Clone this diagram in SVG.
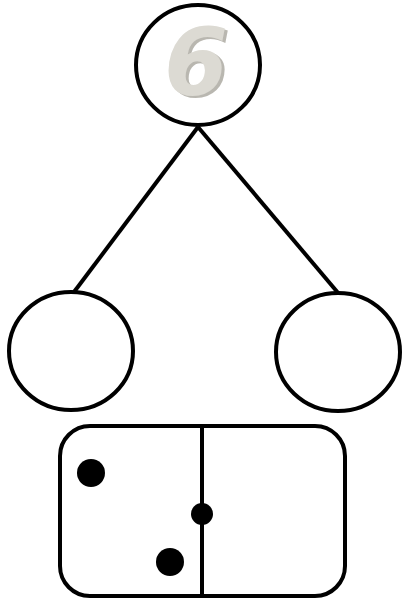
<svg xmlns="http://www.w3.org/2000/svg" width="403" height="600" viewBox="0 0 403 600">
<defs>
<filter id="sh" x="-20%" y="-20%" width="140%" height="140%">
<feOffset in="SourceAlpha" dx="3" dy="2" result="o"/>
<feFlood flood-color="#b9b7b0"/>
<feComposite in2="o" operator="in" result="s"/>
<feMerge><feMergeNode in="s"/><feMergeNode in="SourceGraphic"/></feMerge>
</filter>
</defs>
<style>
.n{fill:#fff;stroke:#000;stroke-width:4}
.c{stroke:#000;stroke-width:4;fill:none}
.dot{fill:#000}
.six{font-family:"DejaVu Sans","Liberation Sans",sans-serif;font-weight:bold;font-style:oblique;font-size:92px;text-anchor:middle;fill:#dcdad3}
</style>
<rect width="403" height="600" fill="#fff"/>
<g id="connectors">
<line class="c" x1="198" y1="127" x2="74" y2="292"/>
<line class="c" x1="198" y1="127" x2="339" y2="294"/>
</g>
<g id="top">
<ellipse class="n" cx="198" cy="65" rx="62" ry="60"/>
<text class="six" x="196" y="95" filter="url(#sh)">6</text>
</g>
<g id="left">
<ellipse class="n" cx="71" cy="351" rx="62" ry="59"/>
</g>
<g id="right">
<ellipse class="n" cx="338" cy="352" rx="62" ry="59"/>
</g>
<g id="domino">
<rect class="n" x="60" y="426" width="285" height="170" rx="30" ry="30"/>
<line class="c" x1="202" y1="426" x2="202" y2="596"/>
<circle class="dot" cx="91" cy="473" r="14"/>
<circle class="dot" cx="170" cy="562" r="14"/>
<circle class="dot" cx="202" cy="514" r="11"/>
</g>
</svg>
